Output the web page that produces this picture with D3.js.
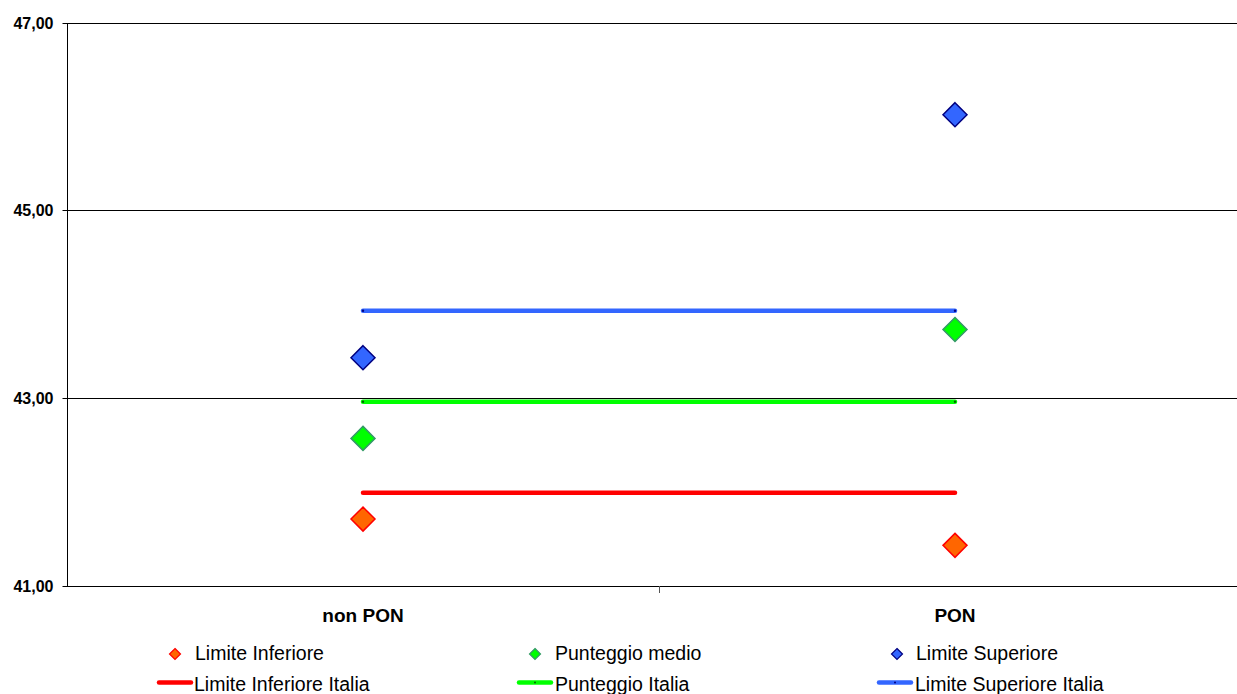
<!DOCTYPE html>
<html><head><meta charset="utf-8">
<script src="https://cdn.jsdelivr.net/npm/d3@7"></script>
<style>body{margin:0;background:#fff;}svg{display:block;font-family:"Liberation Sans",Arial,sans-serif;}</style>
</head><body>
<svg id="c" width="1237" height="694"></svg>
<script>
const categories = ["non PON", "PON"];
const limiteInferiore = [41.71, 41.43];
const punteggioMedio = [42.57, 43.73];
const limiteSuperiore = [43.43, 46.02];
const limiteInferioreItalia = [41.99, 41.99];
const punteggioItalia = [42.96, 42.96];
const limiteSuperioreItalia = [43.93, 43.93];
const yTicks = [41, 43, 45, 47];
const yTickLabels = ["41,00", "43,00", "45,00", "47,00"];

(function () {
const svg = d3.select("#c");
const FONT = "Liberation Sans, Arial, sans-serif";
const pLeft = 67, pRight = 1251, pTop = 22.7, pBottom = 585.7;
const x = d3.scaleBand().domain(categories).range([pLeft, pRight]);
const xc = c => x(c) + x.bandwidth() / 2;
const y = d3.scaleLinear().domain([41, 47]).range([pBottom, pTop]);

// gridlines
svg.append("g").selectAll("line").data(yTicks.slice(1)).join("line")
  .attr("x1", pLeft).attr("x2", 1237)
  .attr("y1", d => Math.round(y(d)) + 0.5).attr("y2", d => Math.round(y(d)) + 0.5)
  .attr("stroke", "#000").attr("stroke-width", 1);

// y axis
const yAxis = d3.axisLeft(y).tickValues(yTicks).tickSize(5).tickPadding(9)
  .tickFormat((d, i) => yTickLabels[i]);
const gy = svg.append("g").attr("transform", `translate(${pLeft + 0.5},0)`).call(yAxis);
gy.attr("font-size", null).attr("font-family", null);
gy.select(".domain").attr("stroke", "#000").attr("d", `M0,${Math.round(pTop)}V${Math.round(pBottom)}`);
gy.selectAll(".tick").attr("transform", d => `translate(0,${Math.round(y(d)) + 0.5})`);
gy.selectAll(".tick line").attr("stroke", "#000");
gy.selectAll(".tick text").style("font-size", "16px").style("font-weight", "bold")
  .attr("fill", "#000").style("font-family", FONT).attr("dy", "0.34em");

// x axis
const xAxis = d3.axisBottom(x).tickSize(0).tickPadding(0);
const gx = svg.append("g").attr("transform", `translate(0,${Math.round(pBottom) + 0.5})`).call(xAxis);
gx.attr("font-size", null).attr("font-family", null);
gx.select(".domain").attr("stroke", "#000").attr("d", `M${pLeft},0H1237`);
gx.selectAll(".tick text").style("font-size", "19px").style("font-weight", "bold")
  .attr("fill", "#000").style("font-family", FONT).attr("dy", null).attr("y", 35);
// tick between categories
svg.append("line").attr("x1", Math.round(x("PON")) + 0.5).attr("x2", Math.round(x("PON")) + 0.5)
  .attr("y1", Math.round(pBottom)).attr("y2", Math.round(pBottom) + 7).attr("stroke", "#555");

// Italia lines
const lineSeries = [
  {vals: limiteInferioreItalia, color: "#FF0000", dot: "#FF0000"},
  {vals: punteggioItalia, color: "#00FF00", dot: "#006600"},
  {vals: limiteSuperioreItalia, color: "#3366FF", dot: "#000080"}
];
const lineGen = d3.line().x((d, i) => xc(categories[i])).y(d => y(d));
lineSeries.forEach(s => {
  svg.append("path").attr("d", lineGen(s.vals)).attr("fill", "none")
    .attr("stroke", s.color).attr("stroke-width", 4.5).attr("stroke-linecap", "round");
  svg.append("g").selectAll("circle").data(s.vals).join("circle")
    .attr("cx", (d, i) => xc(categories[i])).attr("cy", d => y(d)).attr("r", 1.2).attr("fill", s.dot);
});

// diamonds
const pointSeries = [
  {vals: limiteInferiore, fill: "#FF6600", stroke: "#FF0000"},
  {vals: punteggioMedio, fill: "#00FF00", stroke: "#339966"},
  {vals: limiteSuperiore, fill: "#3366FF", stroke: "#000080"}
];
const diamond = r => `M0,${-r}L${r},0L0,${r}L${-r},0Z`;
pointSeries.forEach(s => {
  svg.append("g").selectAll("path").data(s.vals).join("path")
    .attr("transform", (d, i) => `translate(${xc(categories[i])},${y(d)})`)
    .attr("d", diamond(12)).attr("fill", s.fill).attr("stroke", s.stroke).attr("stroke-width", 1.5);
});

// legend
const legend1 = [
  {name: "Limite Inferiore", fill: "#FF6600", stroke: "#FF0000", mx: 175, tx: 195},
  {name: "Punteggio medio", fill: "#00FF00", stroke: "#339966", mx: 535, tx: 555},
  {name: "Limite Superiore", fill: "#3366FF", stroke: "#000080", mx: 897, tx: 916}
];
const legend2 = [
  {name: "Limite Inferiore Italia", color: "#FF0000", dot: "#FF0000", x1: 159, x2: 191, tx: 194},
  {name: "Punteggio Italia", color: "#00FF00", dot: "#006600", x1: 519, x2: 551, tx: 555},
  {name: "Limite Superiore Italia", color: "#3366FF", dot: "#000080", x1: 879, x2: 911, tx: 915}
];
const ly1 = 654, ly2 = 682.5;
legend1.forEach(l => {
  svg.append("path").attr("transform", `translate(${l.mx},${ly1})`).attr("d", diamond(5.5))
    .attr("fill", l.fill).attr("stroke", l.stroke).attr("stroke-width", 1.2);
  svg.append("text").attr("x", l.tx).attr("y", 659.5)
    .style("font-size", "19.5px").style("font-family", FONT).attr("fill", "#000").text(l.name);
});
legend2.forEach(l => {
  svg.append("line").attr("x1", l.x1).attr("x2", l.x2).attr("y1", ly2).attr("y2", ly2)
    .attr("stroke", l.color).attr("stroke-width", 4.5).attr("stroke-linecap", "round");
  svg.append("circle").attr("cx", (l.x1 + l.x2) / 2).attr("cy", ly2).attr("r", 1).attr("fill", l.dot);
  svg.append("text").attr("x", l.tx).attr("y", 690.5)
    .style("font-size", "19.5px").style("font-family", FONT).attr("fill", "#000").text(l.name);
});
})();
</script>
</body></html>
